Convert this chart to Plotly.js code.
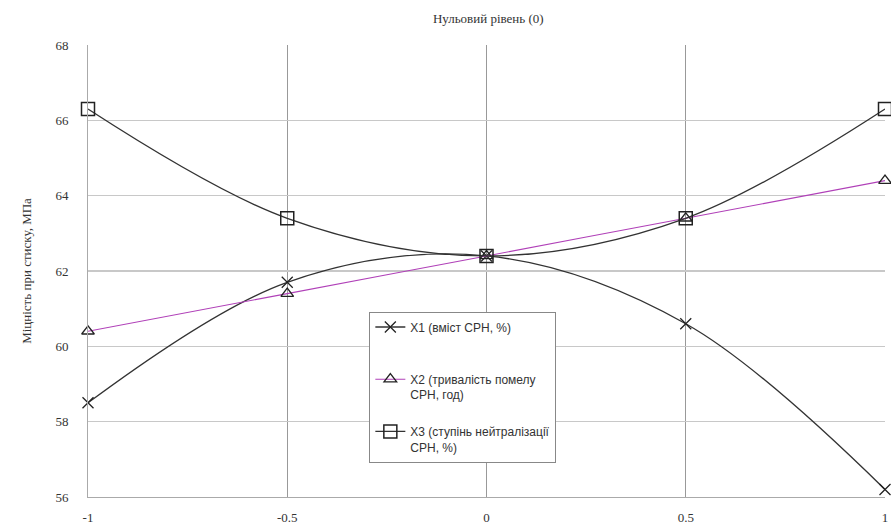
<!DOCTYPE html>
<html><head><meta charset="utf-8">
<script src="https://cdn.plot.ly/plotly-3.0.1.min.js"></script>
<style>body{margin:0;background:#fff}#c{width:891px;height:529px}</style>
</head><body><div id="c"></div>
<script>
const levels = [-1, -0.5, 0, 0.5, 1];
const x1Values = [58.5, 61.7, 62.4, 60.6, 56.2];
const x2Values = [60.4, 61.4, 62.4, 63.4, 64.4];
const x3Values = [66.3, 63.4, 62.4, 63.4, 66.3];
const seriesNames = ["X1 (вміст СРН, %)<br> ", "X2 (тривалість помелу<br>СРН, год)", "X3 (ступінь нейтралізації<br>СРН, %)"];
const xTicks = [-1, -0.5, 0, 0.5, 1];
const xTickText = ["-1", "-0.5", "0", "0.5", "1"];
const yTicks = [56, 58, 60, 62, 64, 66, 68];

const serif = "Liberation Serif, Times New Roman, serif";
const sans = "Liberation Sans, Arial, sans-serif";

const traces = [
  {x: levels, y: x1Values, name: seriesNames[0], legendgroup: "a", mode: "lines+markers", cliponaxis: false,
   line: {color: "#333", width: 1.3, shape: "spline", smoothing: 1},
   marker: {symbol: "x-thin-open", size: 11, color: "#222", line: {color: "#222", width: 1.3}}},
  {x: levels, y: x2Values, name: seriesNames[1], legendgroup: "b", mode: "lines+markers", cliponaxis: false,
   line: {color: "#b040b8", width: 1.1, shape: "spline", smoothing: 1},
   marker: {symbol: "triangle-up-open", size: 11, color: "#222", line: {color: "#222", width: 1.3}}},
  {x: levels, y: x3Values, name: seriesNames[2], legendgroup: "c", mode: "lines+markers", cliponaxis: false,
   line: {color: "#333", width: 1.3, shape: "spline", smoothing: 1},
   marker: {symbol: "square-open", size: 13, color: "#222", line: {color: "#222", width: 1.5}}}
];

const layout = {
  width: 891, height: 529,
  margin: {l: 88, r: 6, t: 45, b: 32},
  paper_bgcolor: "#fff", plot_bgcolor: "#fff",
  title: {text: "Нульовий рівень (0)", font: {family: serif, size: 13, color: "#333"}, x: 0.548, xanchor: "center", y: 0.965, yanchor: "middle"},
  xaxis: {range: [-1, 1], tickvals: xTicks, ticktext: xTickText, showgrid: true, gridcolor: "#999", gridwidth: 1,
          zeroline: false, showline: true, linecolor: "#aaa", ticks: "", ticklabelstandoff: 8,
          tickfont: {family: serif, size: 13, color: "#333"}},
  yaxis: {range: [56, 68], tickvals: yTicks, showgrid: true, gridcolor: "#c8c8c8", gridwidth: 1.5,
          zeroline: false, showline: true, linecolor: "#aaa", ticks: "", ticklabelstandoff: 16,
          tickfont: {family: serif, size: 13, color: "#333"},
          title: {text: "Міцність при стиску, МПа", font: {family: serif, size: 13, color: "#333"}, standoff: 20}},
  legend: {x: 0.353, xanchor: "left", y: 0.41, yanchor: "top", bgcolor: "#fff", bordercolor: "#888", borderwidth: 1,
           font: {family: sans, size: 12, color: "#333"}, tracegroupgap: 18, valign: "top", itemwidth: 30},
  showlegend: true
};
Plotly.newPlot("c", traces, layout, {staticPlot: true});
</script></body></html>
